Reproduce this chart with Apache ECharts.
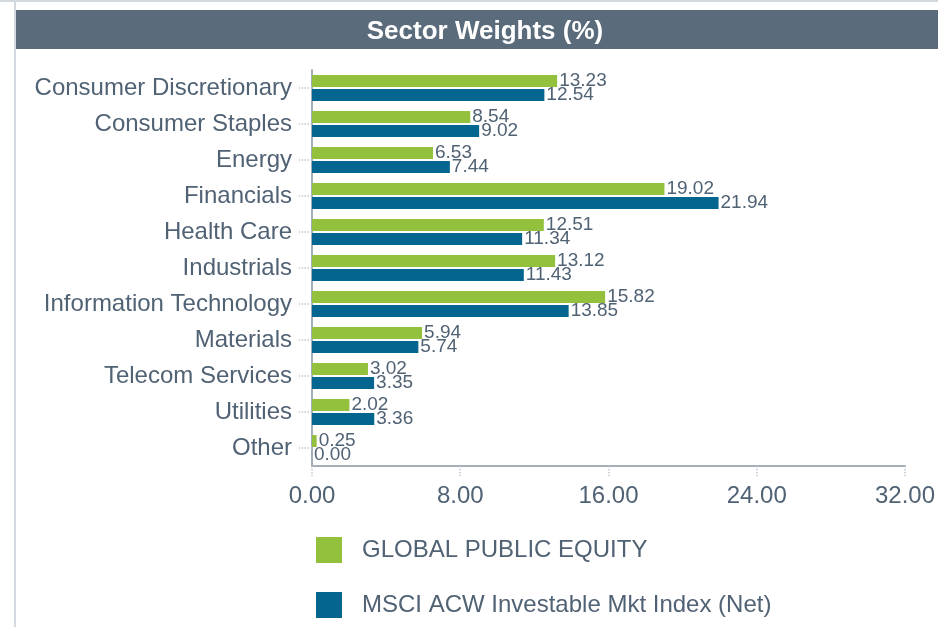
<!DOCTYPE html>
<html>
<head>
<meta charset="utf-8">
<script src="https://cdn.jsdelivr.net/npm/echarts@6/dist/echarts.min.js"></script>
<style>
html,body{margin:0;padding:0;background:#fff;}
#chart{width:938px;height:627px;}
</style>
</head>
<body>
<div id="chart"></div>
<script>
const categories = ['Consumer Discretionary','Consumer Staples','Energy','Financials','Health Care','Industrials','Information Technology','Materials','Telecom Services','Utilities','Other'];
const fundValues = [13.23, 8.54, 6.53, 19.02, 12.51, 13.12, 15.82, 5.94, 3.02, 2.02, 0.25];
const indexValues = [12.54, 9.02, 7.44, 21.94, 11.34, 11.43, 13.85, 5.74, 3.35, 3.36, 0.00];
const seriesNames = ['GLOBAL PUBLIC EQUITY', 'MSCI ACW Investable Mkt Index (Net)'];
const xTicks = [0, 8, 16, 24, 32];

const textColor = '#506274';
const font = "'Liberation Sans', Arial, sans-serif";
const legendBase = {
  orient: 'vertical', left: 311,
  itemWidth: 26, itemHeight: 26,
  icon: 'rect',
  textStyle: {color: textColor, fontSize: 24, fontFamily: font, padding: [0, 0, 0, 15]}
};
const chart = echarts.init(document.getElementById('chart'), null, {renderer: 'canvas'});
chart.setOption({
  animation: false,
  backgroundColor: '#ffffff',
  title: {
    text: 'Sector Weights (%)',
    left: 480, top: 14, textAlign: 'center',
    textStyle: {color: '#ffffff', fontSize: 26, fontWeight: 'bold', fontFamily: font}
  },
  graphic: [
    {type: 'rect', z: -1, shape: {x: 15, y: 10, width: 923, height: 39}, style: {fill: '#5a6b7b'}},
    {type: 'rect', z: -1, shape: {x: 0, y: 0, width: 938, height: 2}, style: {fill: '#d3d9df'}},
    {type: 'rect', z: -1, shape: {x: 14, y: 0, width: 2, height: 627}, style: {fill: '#d3d9df'}}
  ],
  legend: [
    Object.assign({}, legendBase, {top: 532, data: [seriesNames[0]]}),
    Object.assign({}, legendBase, {top: 587, data: [seriesNames[1]]})
  ],
  grid: {left: 312, right: 29, top: 70, bottom: 161, containLabel: false},
  xAxis: {
    type: 'value', min: xTicks[0], max: xTicks[xTicks.length - 1], interval: 8,
    axisLine: {show: true, lineStyle: {color: '#a3afbb', width: 2}},
    axisTick: {show: true, inside: false, length: 10, lineStyle: {color: '#bfc6cd', type: 'dotted', width: 1.5}},
    splitLine: {show: false},
    axisLabel: {color: textColor, fontSize: 24, fontFamily: font, margin: 18,
      formatter: v => v.toFixed(2)}
  },
  yAxis: {
    type: 'category', inverse: true, data: categories,
    axisLine: {show: true, lineStyle: {color: '#a3afbb', width: 2}},
    axisTick: {show: true, alignWithLabel: true, length: 13, lineStyle: {color: '#bfc6cd', type: 'dotted', width: 1.5}},
    axisLabel: {color: textColor, fontSize: 24, fontFamily: font, margin: 20}
  },
  series: [
    {
      name: seriesNames[0], type: 'bar', data: fundValues,
      barWidth: 12, barGap: '17%',
      itemStyle: {color: '#93c13e'},
      label: {show: true, position: 'right', distance: 2, color: textColor, fontSize: 19, fontFamily: font,
        formatter: p => p.value.toFixed(2)}
    },
    {
      name: seriesNames[1], type: 'bar', data: indexValues,
      barWidth: 12, barGap: '17%',
      itemStyle: {color: '#04668f'},
      label: {show: true, position: 'right', distance: 2, color: textColor, fontSize: 19, fontFamily: font,
        formatter: p => p.value.toFixed(2)}
    }
  ]
});
</script>
</body>
</html>
